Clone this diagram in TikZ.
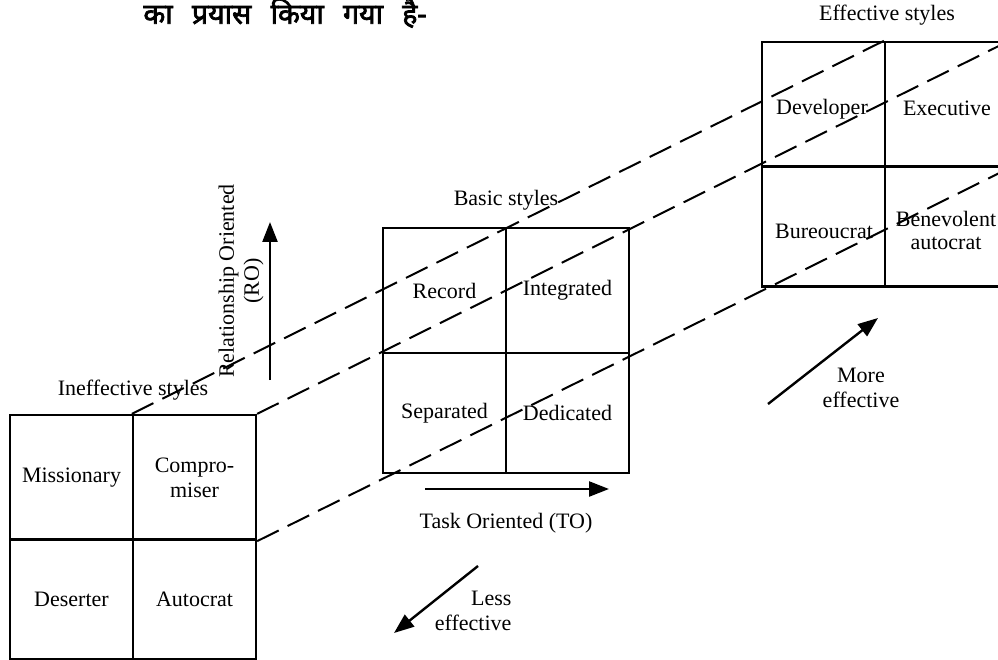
\documentclass[tikz,border=0pt]{standalone}
\usepackage{fontspec}
\setmainfont{Liberation Serif}
\newfontfamily\deva[Script=Devanagari,FakeBold=2.5,WordSpace=2.6]{Noto Sans}
\usetikzlibrary{arrows.meta}
\begin{document}
\begin{tikzpicture}[x=1pt,y=-1pt,
  every node/.style={font=\fontsize{22}{25}\selectfont},
  celltop/.style={draw,line width=2.3pt,minimum width=123pt,minimum height=125pt,inner sep=0pt,align=center},
  cellbot/.style={draw,line width=2.3pt,minimum width=123pt,minimum height=120pt,inner sep=0pt,align=center},
  celltext/.style={align=center,inner sep=0pt,font=\fontsize{22}{23}\selectfont},
  guide/.style={line width=2pt,dash pattern=on 24pt off 10pt},
  dirarrow/.style={line width=2.4pt,-{Triangle[length=20pt,width=15pt]}},
  caption/.style={align=center}]
\useasboundingbox (0,0) rectangle (998,660);
\clip (0,0) rectangle (998,660);
% Hindi heading
\node[font=\deva\fontsize{28.5}{30}\selectfont,inner sep=0pt] (hindi) at (285,13) {का प्रयास किया गया है-};
% Left box: ineffective styles
\node[celltop] (lmis) at (71.5,477.5) {Missionary};
\node[celltop] (lcom) at (194.5,477.5) {Compro-\\miser};
\node[cellbot] (ldes) at (71.5,599.5) {Deserter};
\node[cellbot] (laut) at (194.5,599.5) {Autocrat};
\node (lcap) at (133,390) {Ineffective styles};
% Middle box: basic styles
\node[celltop] (mrec) at (444.5,290.5) {Record};
\node[celltop] (mint) at (567.5,290.5) {Integrated};
\node[cellbot] (msep) at (444.5,413) {Separated};
\node[cellbot] (mded) at (567.5,413) {Dedicated};
\node (mcap) at (506,200) {Basic styles};
% Right box: effective styles
\node[celltop] (rdev) at (823.5,104.5) {};
\node[celltop] (rexe) at (946.5,104.5) {};
\node[cellbot] (rbur) at (823.5,226.5) {};
\node[cellbot] (rben) at (946.5,226.5) {};
\node[celltext] (tdev) at (822,109) {Developer};
\node[celltext] (texe) at (947,108) {Executive};
\node[celltext] (tbur) at (824,231) {Bureoucrat};
\node[celltext] (tben) at (946,230) {Benevolent\\autocrat};
\node (rcap) at (887,15) {Effective styles};
% Dashed guide lines
\draw[guide] (lcom.north west) -- (rexe.north west);
\draw[guide] (lcom.north east) -- (rexe.north east);
\draw[guide] (lcom.south east) -- (rexe.south east);
% Relationship oriented axis
\coordinate (rofrom) at (270,380);
\coordinate (roto) at (270,222);
\draw[dirarrow] (rofrom) -- (roto);
\node[caption,rotate=90] (rolab) at (241,281) {Relationship Oriented\\(RO)};
% Task oriented axis
\coordinate (tofrom) at (425,489);
\coordinate (toto) at (609,489);
\draw[dirarrow] (tofrom) -- (toto);
\node (tolab) at (506,523) {Task Oriented (TO)};
% Less effective
\coordinate (lessfrom) at (478,566);
\coordinate (lessto) at (394,633);
\draw[dirarrow] (lessfrom) -- (lessto);
\node[align=right,anchor=east] (lesslab) at (515,611) {Less\\effective};
% More effective
\coordinate (morefrom) at (768,404);
\coordinate (moreto) at (878,318);
\draw[dirarrow] (morefrom) -- (moreto);
\node[caption] (morelab) at (861,388) {More\\effective};
\end{tikzpicture}
\end{document}
